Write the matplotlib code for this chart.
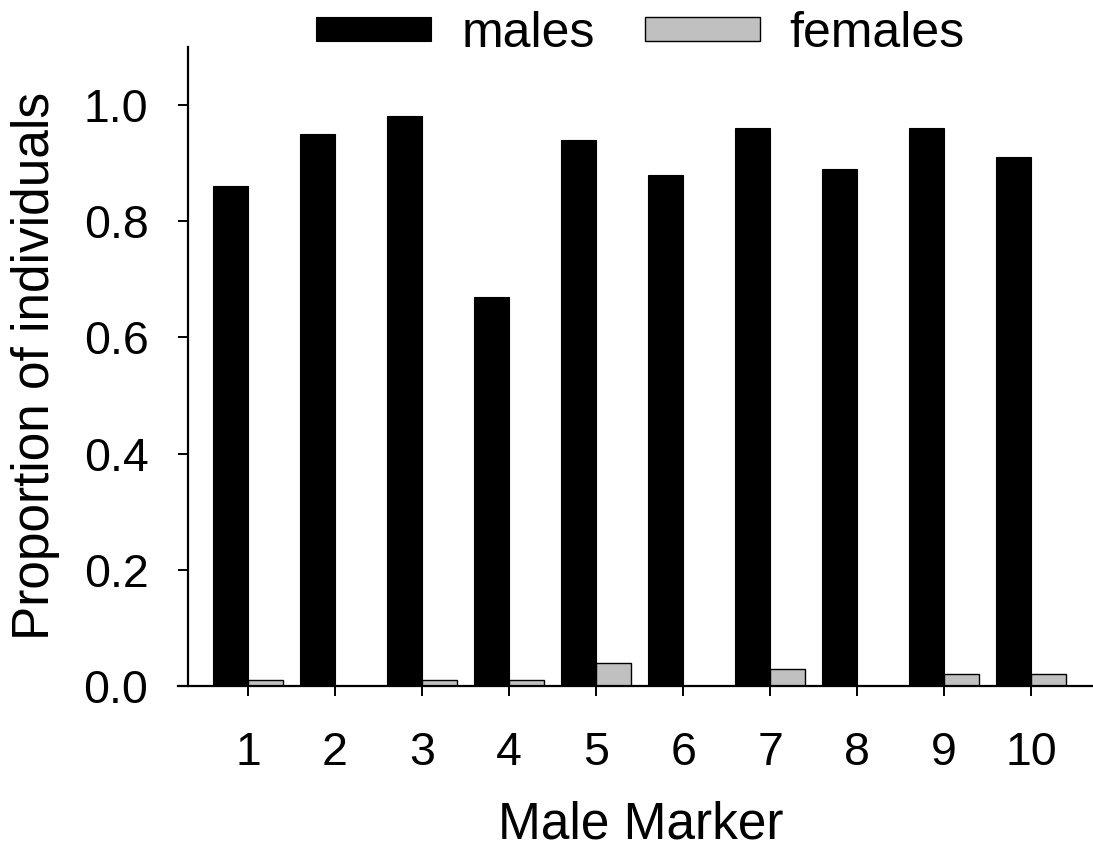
import matplotlib.pyplot as plt
import numpy as np

plt.rcParams['font.family'] = ['Liberation Sans', 'DejaVu Sans']

markers = [1, 2, 3, 4, 5, 6, 7, 8, 9, 10]
males = [0.86, 0.95, 0.98, 0.67, 0.94, 0.88, 0.96, 0.89, 0.96, 0.91]
females = [0.01, 0.0, 0.01, 0.01, 0.04, 0.0, 0.03, 0.0, 0.02, 0.02]
yticks = [0.0, 0.2, 0.4, 0.6, 0.8, 1.0]

fig = plt.figure(figsize=(10.93, 8.5), dpi=100)
ax = fig.add_axes([0.172, 0.193, 0.828, 0.752])

x = np.array(markers)
w = 0.405
ax.bar(x - w / 2, males, w, color='black', edgecolor='black', linewidth=0.8, label='males')
ax.bar(x + w / 2, females, w, color='#c0c0c0', edgecolor='black', linewidth=1.0, label='females')

ax.set_xlim(0.31, 10.71)
ax.set_ylim(0, 1.1)
ax.set_xticks(markers)
ax.set_yticks(yticks)
ax.set_yticklabels(['%.1f' % v for v in yticks])

for s in ['top', 'right']:
    ax.spines[s].set_visible(False)
ax.spines['left'].set_linewidth(1.6)
ax.spines['bottom'].set_linewidth(1.6)
ax.spines['bottom'].set_bounds(0.31 - 0.115, 10.71)

ax.tick_params(axis='both', direction='out', length=7.5, width=1.4, labelsize=33.5)
ax.tick_params(axis='x', pad=25)
ax.tick_params(axis='y', pad=21)

ax.set_xlabel('Male Marker', fontsize=37, labelpad=18)
ax.set_ylabel('Proportion of individuals', fontsize=37, labelpad=17)

ax.legend(loc='center', bbox_to_anchor=(0.5, 1.02), ncol=2, frameon=False,
          fontsize=36, handlelength=2.3, handleheight=0.36, handletextpad=0.6,
          columnspacing=1.0, borderaxespad=0)

fig.savefig('out.png', dpi=100)
